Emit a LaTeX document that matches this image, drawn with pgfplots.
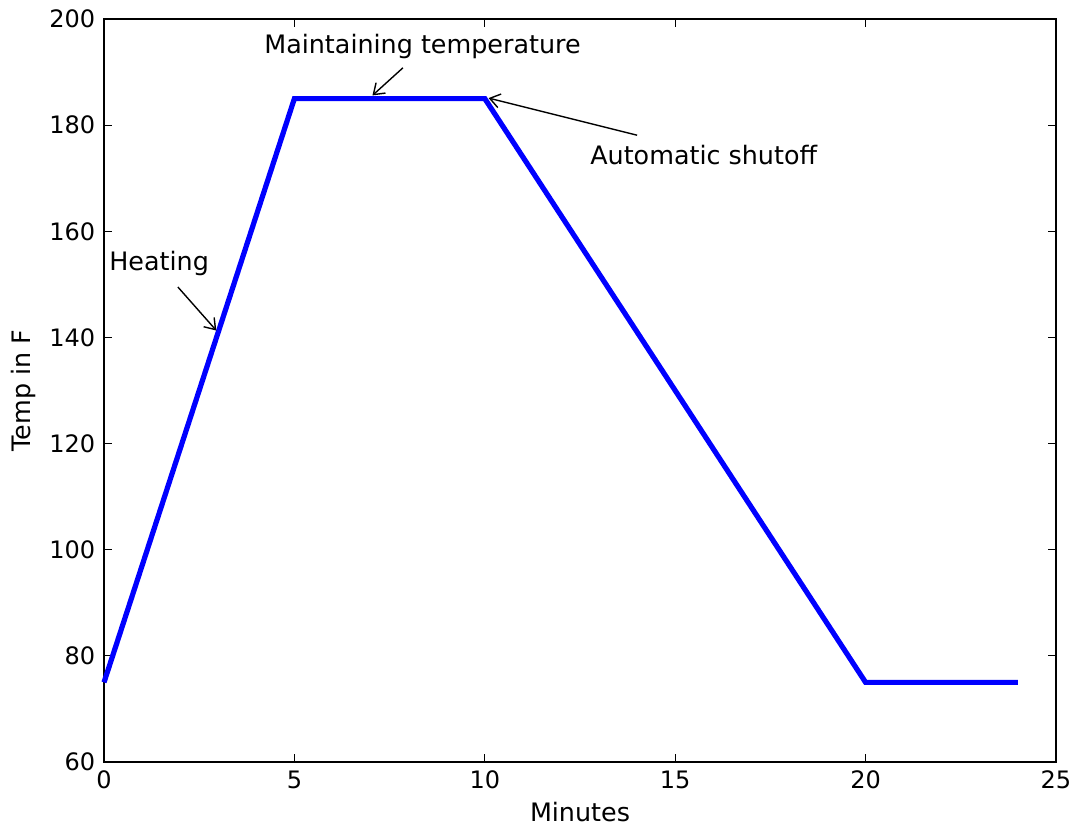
\documentclass[border=0pt]{standalone}
\usepackage{fontspec}
\setmainfont{DejaVu Sans}
\usepackage{pgfplots}
\pgfplotsset{compat=1.18}
\usetikzlibrary{arrows.meta}
\begin{document}
\fontsize{12.7}{15}\selectfont
\begin{tikzpicture}
\begin{axis}[
  scale only axis,
  width=476pt, height=371.5pt,
  xmin=0, xmax=25, ymin=60, ymax=200,
  xtick={0,5,...,25}, ytick={60,80,...,200},
  tick align=inside,
  major tick length=4pt,
  axis line style={line width=0.8pt},
  every tick/.style={black, line width=0.6pt},
  tick label style={font=\fontsize{12}{14}\selectfont},
  label style={font=\fontsize{12.7}{15}\selectfont},
  /pgf/number format/assume math mode=true,
  xlabel={Minutes}, ylabel={Temp in F},
  xlabel style={yshift=2pt},
  ylabel style={yshift=-2pt},
  clip=false,
]
\addplot[color={rgb,255:red,0;green,0;blue,255}, line width=2.6pt, line join=miter] coordinates {
  (0,75) (5,185) (10,185) (20,75) (24,75)
};
\node[anchor=west, inner sep=0pt] at (axis cs:0.13,154) {Heating};
\draw[-{Straight Barb[length=5pt,width=7pt]}, line width=0.7pt] (axis cs:1.94,149.5) -- (axis cs:2.95,141.3);
\node[anchor=west, inner sep=0pt] at (axis cs:4.2,194.9) {Maintaining temperature};
\draw[-{Straight Barb[length=5pt,width=7pt]}, line width=0.7pt] (axis cs:7.85,190.8) -- (axis cs:7.05,185.6);
\node[anchor=west, inner sep=0pt] at (axis cs:12.76,174.4) {Automatic shutoff};
\draw[-{Straight Barb[length=5pt,width=7pt]}, line width=0.7pt] (axis cs:14.0,178.1) -- (axis cs:10.1,185.1);
\end{axis}
\pgfresetboundingbox
\path (current axis.south west) ++(-52pt,-32pt) coordinate (bl);
\path (current axis.north east) ++(8pt,9.5pt) coordinate (tr);
\path (bl) rectangle (tr);
\end{tikzpicture}
\end{document}
